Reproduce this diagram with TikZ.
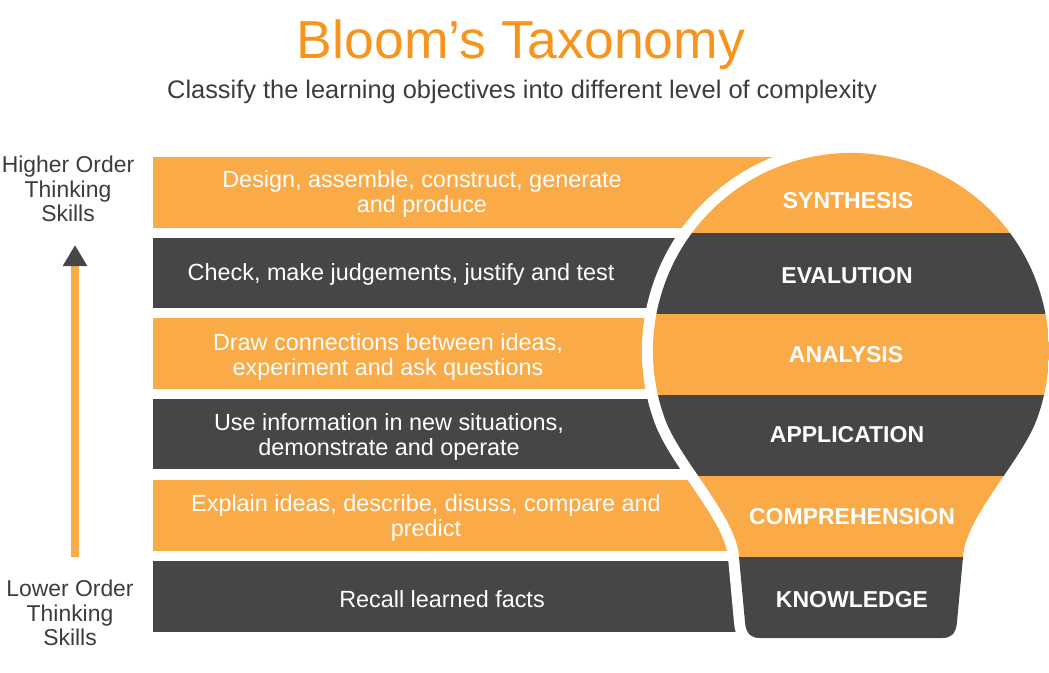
\documentclass[tikz,border=0pt]{standalone}
\usepackage{fontspec}
\setmainfont{Liberation Sans}
\usetikzlibrary{arrows.meta}
\definecolor{bo}{HTML}{FAAA46}
\definecolor{bd}{HTML}{464646}
\definecolor{bt}{HTML}{F7941D}
\definecolor{tx}{HTML}{3C3C3C}
\def\bulbpath{(664.9,-418.7) arc[start angle=200,end angle=-20,radius=198] .. controls (1021.7,-461) and (965,-517) .. (963,-557) -- (957,-622) .. controls (956,-635) and (950,-638) .. (942,-638) -- (760,-638) .. controls (752,-638) and (746,-635) .. (745,-622) -- (739,-557) .. controls (737,-517) and (680.3,-461) .. (664.9,-418.7) -- cycle}
\begin{document}
\begin{tikzpicture}[x=1pt,y=1pt,
  bartext/.style={text=white,align=center,font=\fontsize{23.4}{25}\selectfont},
  lvl/.style={text=white,font=\bfseries\fontsize{23}{26}\selectfont},
  side/.style={text=tx,align=center,font=\fontsize{22.9}{24.5}\selectfont}]
\useasboundingbox (0,0) rectangle (1049,-672);
% title
\node[text=bt,font=\fontsize{53.5}{60}\selectfont] (title) at (521,-45) {Bloom’s Taxonomy};
\node[text=tx,font=\fontsize{25.4}{28}\selectfont] (sub) at (522,-92) {Classify the learning objectives into different level of complexity};
% bars
\fill[bo] (153,-157) rectangle (850,-228);
\fill[bd] (153,-238) rectangle (850,-308);
\fill[bo] (153,-318) rectangle (850,-389);
\fill[bd] (153,-399) rectangle (850,-469);
\fill[bo] (153,-480) rectangle (850,-551);
\fill[bd] (153,-561) rectangle (850,-632);
% bulb
\draw[white,line width=22,line join=round,fill=white] \bulbpath;
\begin{scope}
\clip \bulbpath;
\fill[bo] (640,-140) rectangle (1060,-233);
\fill[bd] (640,-233) rectangle (1060,-314);
\fill[bo] (640,-314) rectangle (1060,-395);
\fill[bd] (640,-395) rectangle (1060,-476);
\fill[bo] (640,-476) rectangle (1060,-557);
\fill[bd] (640,-557) rectangle (1060,-650);
\end{scope}
% level labels
\node[lvl] (syn) at (848,-201) {SYNTHESIS};
\node[lvl] (eva) at (847,-276) {EVALUTION};
\node[lvl] (ana) at (846,-355) {ANALYSIS};
\node[lvl] (app) at (847,-435) {APPLICATION};
\node[lvl] (com) at (852,-517) {COMPREHENSION};
\node[lvl] (kno) at (852,-600) {KNOWLEDGE};
% bar texts
\node[bartext] (t1) at (422,-194) {Design, assemble, construct, generate\\and produce};
\node[bartext] (t2) at (401,-274) {Check, make judgements, justify and test};
\node[bartext] (t3) at (388,-357) {Draw connections between ideas,\\experiment and ask questions};
\node[bartext] (t4) at (389,-437) {Use information in new situations,\\demonstrate and operate};
\node[bartext] (t5) at (426,-518) {Explain ideas, describe, disuss, compare and\\predict};
\node[bartext] (t6) at (442,-599) {Recall learned facts};
% side labels
\node[side] (hi) at (68,-189) {Higher Order\\Thinking\\Skills};
\node[side] (lo) at (70,-613) {Lower Order\\Thinking\\Skills};
\coordinate (a0) at (75,-557);
\coordinate (a1) at (75,-245);
\draw[bo,line width=8,-{Triangle[width=23pt,length=21pt,color=bd,fill=bd]}] (a0) -- (a1);
\end{tikzpicture}
\end{document}
